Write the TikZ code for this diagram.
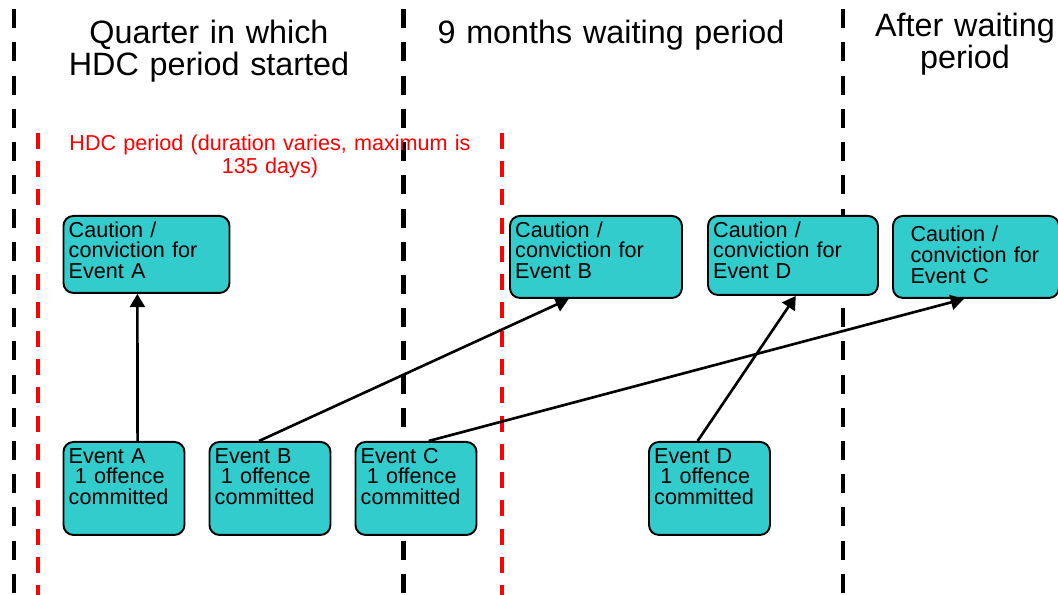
\documentclass[tikz,border=0pt]{standalone}
\usepackage{fontspec}
\setmainfont{Liberation Sans}
\usetikzlibrary{arrows.meta}
\definecolor{boxteal}{RGB}{51,204,204}

\begin{document}
\begin{tikzpicture}[
  bline/.style={line width=2.45pt, dash pattern=on 10.8pt off 8.1pt},
  rline/.style={red, line width=2.3pt, dash pattern=on 9.1pt off 7pt},
  ttl/.style={text width=8cm, align=center, anchor=base, font=\fontsize{18.4}{18.1}\selectfont},
  cbox/.style={draw, line width=1.1pt, rounded corners=0.2cm, fill=boxteal, anchor=north west,
    align=left, inner sep=3pt, text height=9pt, font=\fontsize{12.3}{11.8}\selectfont},
  ebox/.style={cbox, text width=2.42cm-6pt, text depth=1.86cm-15pt},
  arr/.style={line width=1.5pt, -{Triangle[length=7.5pt,width=8.5pt]}}
  ]
  \useasboundingbox (0,0) rectangle (21.16,11.9);

  %quarter borders
  \draw[bline] (0.276,11.714) -- (0.276,0);
  \draw[bline] (8.07,11.714) -- (8.07,0);
  \draw[bline] (16.86,11.714) -- (16.86,0);
  %HDC period borders
  \draw[rline] (0.766,9.246) -- (0.766,0);
  \draw[rline] (10.04,9.246) -- (10.04,0);

  %titles
  \node[ttl] (qtitle) at (4.18,11.02) {Quarter in which\\HDC period started};
  \node[ttl] (wtitle) at (12.22,11.02) {9 months waiting period};
  \node[ttl] (atitle) at (19.3,11.16) {After waiting\\period};
  \node[red, text width=9cm, align=center, anchor=base,
    font=\fontsize{12.3}{12.7}\selectfont] (hdc) at (5.4,8.88)
    {HDC period (duration varies, maximum is\\135 days)};

  %cautions / convictions
  \node[cbox, text width=3.32cm-6pt, text depth=1.54cm-15pt] (cauA) at (1.25,7.6)
    {Caution /\\conviction for\\Event A};
  \node[cbox, text width=3.44cm-6pt, text depth=1.64cm-15pt] (cauB) at (10.18,7.6)
    {Caution /\\conviction for\\Event B};
  \node[cbox, text width=3.40cm-6pt, text depth=1.58cm-15pt] (cauD) at (14.14,7.6)
    {Caution /\\conviction for\\Event D};
  \node[cbox, inner xsep=10pt, text width=3.32cm-20pt, text height=11.8pt,
    text depth=1.64cm-17.8pt] (cauC) at (17.84,7.6)
    {Caution /\\conviction for\\Event C};

  %events
  \node[ebox] (evA) at (1.25,3.08) {Event A\\\hspace*{0.28em}1 offence\\committed};
  \node[ebox] (evB) at (4.17,3.08) {Event B\\\hspace*{0.28em}1 offence\\committed};
  \node[ebox] (evC) at (7.09,3.08) {Event C\\\hspace*{0.28em}1 offence\\committed};
  \node[ebox] (evD) at (12.96,3.08) {Event D\\\hspace*{0.28em}1 offence\\committed};

  %arrows
  \draw[arr] (evA.74) -- (cauA.257);
  \draw[arr] (evB.103) -- (cauB.237);
  \draw[arr] (evC.75) -- (cauC.254);
  \draw[arr] (evD.104) -- (cauD.274);

\end{tikzpicture}
\end{document}
